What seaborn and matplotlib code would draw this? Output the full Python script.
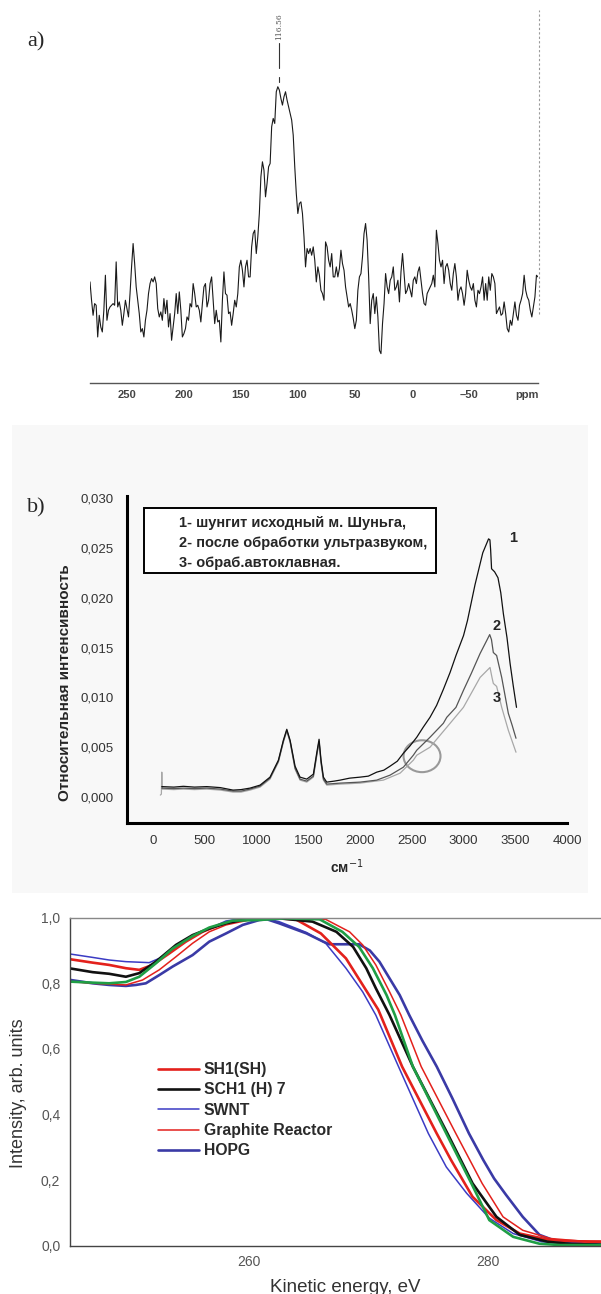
import numpy as np
import pandas as pd
import seaborn as sns
import matplotlib.pyplot as plt
from matplotlib.patches import Rectangle, Ellipse

sns.set_style("white")
plt.rcParams['font.family'] = ['Liberation Sans', 'DejaVu Sans']

# ---- a) 13C NMR spectrum (ppm axis runs right to left) ----
a_ppm_first, a_ppm_last = 282, -110
a_intensity = [303, 248, 203, 238, 233, 138, 203, 168, 153, 218, 323, 188, 218, 228, 233, 238, 233, 363, 228,
               243, 218, 173, 208, 248, 223, 198, 268, 348, 418, 358, 288, 248, 208, 153, 163, 138, 188, 218,
               268, 298, 313, 303, 318, 298, 223, 198, 213, 188, 253, 208, 248, 168, 208, 128, 168, 208, 268,
               208, 273, 218, 138, 148, 163, 198, 188, 238, 228, 298, 268, 228, 233, 218, 183, 238, 288, 298,
               228, 248, 298, 318, 248, 178, 218, 183, 188, 123, 248, 333, 268, 263, 208, 213, 173, 208, 248,
               228, 268, 348, 368, 338, 288, 348, 368, 318, 318, 408, 448, 458, 388, 438, 508, 618, 663, 638,
               558, 598, 648, 658, 768, 793, 778, 873, 888, 878, 853, 833, 858, 873, 848, 828, 808, 788, 743,
               648, 568, 508, 538, 543, 508, 438, 348, 403, 388, 403, 383, 408, 368, 303, 348, 323, 278, 268,
               248, 423, 408, 368, 348, 388, 318, 318, 348, 318, 343, 398, 358, 338, 288, 258, 228, 238, 218,
               193, 163, 188, 278, 318, 328, 378, 448, 478, 428, 318, 178, 248, 268, 208, 258, 198, 98, 88,
               178, 238, 328, 288, 268, 308, 318, 348, 278, 288, 308, 243, 333, 388, 328, 268, 278, 298, 278,
               258, 308, 318, 298, 333, 348, 308, 268, 238, 233, 268, 278, 288, 298, 323, 288, 458, 418, 368,
               348, 368, 298, 348, 358, 338, 298, 278, 328, 358, 318, 248, 278, 288, 268, 233, 268, 338, 308,
               288, 278, 298, 248, 228, 278, 268, 288, 318, 248, 298, 248, 318, 278, 328, 318, 298, 208, 218,
               228, 203, 208, 243, 208, 163, 153, 188, 173, 208, 243, 203, 188, 233, 248, 268, 323, 278, 258,
               248, 218, 198, 228, 258, 323, 318]
a_ticks = [250, 200, 150, 100, 50, 0, -50, -100]
a_ticklabels = ['250', '200', '150', '100', '50', '0', '\u201350', 'ppm']
a_peak = 116.56

# ---- b) Raman spectra ----
b_x1 = [84, 200, 293, 400, 519, 650, 773, 850, 937, 1034, 1130, 1211, 1259, 1292, 1324, 1372, 1420, 1485,
        1549, 1581, 1604, 1623, 1646, 1678, 1750, 1807, 1900, 2000, 2080, 2161, 2230, 2290, 2360, 2419,
        2480, 2548, 2610, 2676, 2740, 2805, 2870, 2927, 3000, 3038, 3111, 3186, 3242, 3255, 3262, 3271,
        3300, 3333, 3360, 3385, 3420, 3450, 3480, 3512]
b_y1 = [0.00105, 0.00100, 0.00108, 0.00100, 0.00105, 0.00095, 0.00070, 0.00075, 0.00090, 0.0012, 0.0020,
        0.0037, 0.0057, 0.0068, 0.0057, 0.0031, 0.0020, 0.0018, 0.0023, 0.0044, 0.0058, 0.0037, 0.0020,
        0.0015, 0.0016, 0.0017, 0.0019, 0.0020, 0.0021, 0.0025, 0.0027, 0.0031, 0.0036, 0.0044, 0.0051,
        0.0060, 0.0070, 0.0080, 0.0092, 0.0108, 0.0125, 0.0142, 0.0162, 0.0177, 0.0213, 0.0245, 0.0259,
        0.0258, 0.0248, 0.0229, 0.0226, 0.0220, 0.0205, 0.0184, 0.0160, 0.0134, 0.0112, 0.0090]
b_x2 = [84, 200, 293, 400, 519, 650, 773, 850, 937, 1034, 1130, 1211, 1259, 1292, 1324, 1372, 1420, 1485,
        1549, 1581, 1604, 1623, 1646, 1678, 1807, 2000, 2161, 2290, 2419, 2515, 2548, 2676, 2805, 2838,
        2927, 2999, 3075, 3160, 3224, 3253, 3270, 3288, 3320, 3369, 3433, 3470, 3507]
b_y2 = [0.0009, 0.00085, 0.0009, 0.00085, 0.0009, 0.0008, 0.0006, 0.0006, 0.0008, 0.0011, 0.0019, 0.0036,
        0.0056, 0.0067, 0.0056, 0.0029, 0.0018, 0.0016, 0.0021, 0.0042, 0.0056, 0.0035, 0.0018, 0.0013,
        0.0014, 0.0015, 0.0017, 0.0022, 0.0030, 0.0042, 0.0047, 0.0060, 0.0074, 0.0080, 0.0090, 0.0107,
        0.0124, 0.0144, 0.0157, 0.0163, 0.0158, 0.0145, 0.0142, 0.0120, 0.0084, 0.0072, 0.0059]
b_x3 = [70, 80, 84, 88, 200, 293, 400, 519, 650, 773, 850, 937, 1034, 1130, 1211, 1259, 1292, 1324, 1372,
        1420, 1485, 1549, 1581, 1604, 1623, 1646, 1678, 1807, 2000, 2225, 2387, 2515, 2548, 2676, 2838,
        2999, 3160, 3256, 3275, 3288, 3320, 3369, 3433, 3470, 3507]
b_y3 = [0.0002, 0.0003, 0.0025, 0.0008, 0.00075, 0.0008, 0.00075, 0.0008, 0.0007, 0.0005, 0.0005, 0.0007,
        0.0010, 0.0018, 0.0035, 0.0055, 0.0066, 0.0055, 0.0028, 0.0017, 0.0015, 0.0020, 0.0041, 0.0055,
        0.0034, 0.0017, 0.0012, 0.0013, 0.0014, 0.0017, 0.0024, 0.0037, 0.0042, 0.0050, 0.0070, 0.0090,
        0.0120, 0.0130, 0.0120, 0.0114, 0.0111, 0.0090, 0.0067, 0.0056, 0.0045]
b_yticks = [0.000, 0.005, 0.010, 0.015, 0.020, 0.025, 0.030]
b_yticklabels = ['0,000', '0,005', '0,010', '0,015', '0,020', '0,025', '0,030']
b_xticks = [0, 500, 1000, 1500, 2000, 2500, 3000, 3500, 4000]
b_legend = ['1- шунгит исходный м. Шуньга,',
            '2- после обработки ультразвуком,',
            '3- обраб.автоклавная.']

# ---- c) normalised spectra ----
c_sh1_x = [245.07, 246.89, 248.28, 249.68, 250.8, 251.91, 253.31, 254.7, 256.1, 257.5, 259.46, 261.5, 263.9,
           266.0, 268.1, 270.8, 272.8, 275.7, 276.9, 278.7, 280.7, 282.65, 285.2, 288.5, 289.5]
c_sh1_y = [0.873, 0.863, 0.856, 0.846, 0.841, 0.856, 0.891, 0.927, 0.957, 0.978, 0.995, 1.0, 0.995,
           0.952, 0.876, 0.72, 0.546, 0.342, 0.261, 0.149, 0.078, 0.037, 0.017, 0.012, 0.012]
c_sch1_x = [245.07, 246.89, 248.28, 249.68, 250.8, 252.19, 253.87, 255.26, 256.66, 258.06, 259.46, 262.0,
            265.3, 267.3, 268.7, 269.8, 270.6, 271.75, 273.7, 276.6, 278.7, 280.7, 282.65, 285.0, 287.0, 289.5]
c_sch1_y = [0.845, 0.834, 0.829, 0.82, 0.831, 0.866, 0.917, 0.947, 0.967, 0.983, 0.993, 1.0, 0.988, 0.957,
            0.911, 0.846, 0.785, 0.703, 0.546, 0.342, 0.19, 0.088, 0.033, 0.012, 0.005, 0.003]
c_swnt_x = [245.07, 246.89, 248.28, 249.68, 251.63, 252.47, 253.87, 255.26, 256.66, 258.06, 259.46, 261.0,
            262.5, 264.8, 266.4, 268.1, 269.5, 270.6, 272.5, 275.0, 276.5, 278.2, 280.1, 282.1, 284.5, 286.5,
            289.5]
c_swnt_y = [0.889, 0.879, 0.871, 0.866, 0.863, 0.876, 0.912, 0.942, 0.967, 0.990, 0.998, 1.0, 0.988, 0.955,
            0.922, 0.846, 0.774, 0.703, 0.546, 0.342, 0.24, 0.16, 0.084, 0.037, 0.012, 0.005, 0.003]
c_graph_x = [245.07, 246.89, 249.68, 251.07, 252.47, 253.87, 255.26, 256.66, 258.06, 260.0, 263.0, 266.4,
             268.4, 269.5, 270.6, 271.75, 272.7, 274.4, 277.3, 279.5, 281.25, 282.9, 285.2, 287.5, 289.5]
c_graph_y = [0.805, 0.80, 0.795, 0.81, 0.841, 0.881, 0.922, 0.957, 0.978, 0.993, 1.0, 0.995, 0.957, 0.917,
             0.856, 0.774, 0.703, 0.546, 0.342, 0.19, 0.088, 0.047, 0.022, 0.015, 0.014]
c_hopg_x = [245.07, 246.89, 248.28, 249.68, 250.52, 251.35, 252.47, 253.59, 255.26, 256.66, 258.06, 259.46,
            260.85, 261.5, 262.5, 264.8, 266.2, 266.7, 269.2, 270.1, 270.9, 271.75, 272.6, 273.4, 274.5,
            275.7, 277.0, 278.4, 279.6, 280.5, 281.5, 282.9, 284.3, 285.4, 287.5, 289.5]
c_hopg_y = [0.81, 0.80, 0.795, 0.792, 0.795, 0.80, 0.825, 0.851, 0.886, 0.927, 0.952, 0.978, 0.993, 0.995,
            0.983, 0.952, 0.927, 0.919, 0.919, 0.90, 0.866, 0.815, 0.764, 0.703, 0.625, 0.546, 0.45, 0.342,
            0.261, 0.205, 0.155, 0.088, 0.033, 0.018, 0.008, 0.003]
c_green_x = [245.07, 246.89, 248.28, 249.68, 250.8, 252.19, 253.59, 255.26, 256.66, 258.6, 260.85, 263.0,
             265.9, 267.8, 269.2, 270.35, 271.5, 272.2, 273.7, 276.5, 278.6, 280.1, 282.1, 284.3, 286.0, 289.5]
c_green_y = [0.805, 0.802, 0.80, 0.804, 0.82, 0.861, 0.906, 0.944, 0.97, 0.991, 0.993, 0.998, 0.995, 0.957,
             0.911, 0.846, 0.764, 0.703, 0.546, 0.342, 0.19, 0.078, 0.027, 0.006, 0.002, 0.002]
c_yticks = [0.0, 0.2, 0.4, 0.6, 0.8, 1.0]
c_yticklabels = ['0,0', '0,2', '0,4', '0,6', '0,8', '1,0']
c_xticks = [260, 280]
c_legend_order = ['SH1(SH)', 'SCH1 (H) 7', 'SWNT', 'Graphite Reactor', 'HOPG']

W, H = 601, 1294
fig = plt.figure(figsize=(W / 100, H / 100), dpi=100)


def box(x0, y0, x1, y1):
    return [x0 / W, 1 - y1 / H, (x1 - x0) / W, (y1 - y0) / H]


# light grey backdrop of the middle picture
fig.patches.append(Rectangle((12 / W, 1 - 893 / H), (588 - 12) / W, (893 - 425) / H,
                             transform=fig.transFigure, facecolor='#f8f8f8', edgecolor='none', zorder=-10))

# ================= a) =================
ax_a = fig.add_axes(box(90, 0, 538, 383))
ax_a.patch.set_alpha(0)
ppm = np.linspace(a_ppm_first, a_ppm_last, len(a_intensity))
sns.lineplot(x=ppm, y=a_intensity, ax=ax_a, color='#1a1a1a', linewidth=0.8, sort=False, estimator=None)
ax_a.set_xlim(a_ppm_first, a_ppm_last)
ax_a.set_ylim(0, 1148)
for s in ['left', 'top', 'right']:
    ax_a.spines[s].set_visible(False)
ax_a.spines['bottom'].set_color('#555555')
ax_a.spines['bottom'].set_linewidth(1.0)
ax_a.set_yticks([])
ax_a.set_xticks(a_ticks, a_ticklabels)
ax_a.set_xticks(np.arange(-100, 281, 10), minor=True)
ax_a.tick_params(axis='x', which='major', direction='inout', length=6, width=0.8, color='#555555',
                 labelsize=8, labelcolor='#444444', pad=2)
ax_a.tick_params(axis='x', which='minor', direction='in', length=3, width=0.7, color='#555555')
for lbl in ax_a.get_xticklabels():
    lbl.set_fontweight('bold')

top = max(a_intensity)
ax_a.plot([a_peak, a_peak], [top + 55, top + 130], color='#333333', lw=0.8)
ax_a.plot([a_peak, a_peak], [top + 15, top + 30], color='#333333', lw=0.8)
ax_a.text(a_peak, top + 140, '116.56', rotation=90, ha='center', va='bottom', fontsize=5.5,
          color='#555555', family='DejaVu Serif')
ax_a.plot([a_ppm_last - 0.5] * 2, [208, 1118], color='#999999', lw=0.8, ls=(0, (2, 2)), clip_on=False)
fig.text(27 / W, 1 - 42 / H, 'a)', family='Liberation Serif', fontsize=16, ha='left', va='center')

# ================= b) =================
ax_b = fig.add_axes(box(126.5, 496, 567, 823))
ax_b.patch.set_alpha(0)
sns.lineplot(x=b_x3, y=b_y3, ax=ax_b, color='#a8a8a8', linewidth=0.9, sort=False, estimator=None)
sns.lineplot(x=b_x2, y=b_y2, ax=ax_b, color='#555555', linewidth=0.9, sort=False, estimator=None)
sns.lineplot(x=b_x1, y=b_y1, ax=ax_b, color='#111111', linewidth=0.9, sort=False, estimator=None)
ax_b.set_xlim(-257, 4000)
ax_b.set_ylim(-0.0026, 0.0302)
for s in ['top', 'right']:
    ax_b.spines[s].set_visible(False)
for s in ['left', 'bottom']:
    ax_b.spines[s].set_linewidth(2.2)
    ax_b.spines[s].set_color('black')
ax_b.set_xticks(b_xticks, [str(v) for v in b_xticks])
ax_b.set_xticks(np.arange(-250, 4001, 250), minor=True)
ax_b.set_yticks(b_yticks, b_yticklabels)
ax_b.set_yticks(np.arange(-0.0025, 0.0301, 0.0025), minor=True)
ax_b.tick_params(which='major', direction='out', length=6, width=1.5, color='black',
                 labelsize=9.5, labelcolor='#333333', pad=3)
ax_b.tick_params(which='minor', direction='out', length=3, width=1.0, color='black')
ax_b.text(3478, 0.0260, '1', fontsize=10.5, fontweight='bold', ha='center', va='center')
ax_b.text(3324, 0.0172, '2', fontsize=10.5, fontweight='bold', ha='center', va='center')
ax_b.text(3324, 0.0099, '3', fontsize=10.5, fontweight='bold', ha='center', va='center')
ax_b.add_patch(Ellipse((2599, 0.0041), 357, 0.0032, fill=False, edgecolor='#999999', lw=1.5))

fig.patches.append(Rectangle((144 / W, 1 - 573 / H), 292 / W, 65 / H, transform=fig.transFigure,
                             facecolor='white', edgecolor='black', lw=1.4))
for i, line in enumerate(b_legend):
    fig.text(179 / W, 1 - (523 + 20 * i) / H, line, fontsize=10.5, fontweight='bold', ha='left', va='center')
fig.text(65 / W, 1 - 683 / H, 'Относительная интенсивность', rotation=90, fontsize=11,
         fontweight='bold', ha='center', va='center')
fig.text(347 / W, 1 - 867 / H, 'см$^{-1}$', fontsize=10, fontweight='bold', ha='center', va='center')
fig.text(27 / W, 1 - 508 / H, 'b)', family='Liberation Serif', fontsize=16, ha='left', va='center')

# ================= c) =================
ax_c = fig.add_axes(box(70, 917.7, 601, 1245.7))
sns.lineplot(x=c_swnt_x, y=c_swnt_y, ax=ax_c, color='#3b3bc4', linewidth=1.1, sort=False,
             estimator=None, label='SWNT')
sns.lineplot(x=c_hopg_x, y=c_hopg_y, ax=ax_c, color='#3a3aa6', linewidth=1.9, sort=False,
             estimator=None, label='HOPG')
sns.lineplot(x=c_graph_x, y=c_graph_y, ax=ax_c, color='#e3211c', linewidth=1.1, sort=False,
             estimator=None, label='Graphite Reactor')
sns.lineplot(x=c_sh1_x, y=c_sh1_y, ax=ax_c, color='#e3211c', linewidth=1.9, sort=False,
             estimator=None, label='SH1(SH)')
sns.lineplot(x=c_sch1_x, y=c_sch1_y, ax=ax_c, color='#111111', linewidth=1.9, sort=False,
             estimator=None, label='SCH1 (H) 7')
sns.lineplot(x=c_green_x, y=c_green_y, ax=ax_c, color='#1f9e45', linewidth=1.9, sort=False,
             estimator=None)
ax_c.set_xlim(245, 289.45)
ax_c.set_ylim(0, 1.0)
ax_c.spines['right'].set_visible(False)
ax_c.spines['top'].set_color('#888888')
for s in ['left', 'bottom']:
    ax_c.spines[s].set_color('#444444')
for s in ['left', 'bottom', 'top']:
    ax_c.spines[s].set_linewidth(1.0)
ax_c.set_xticks(c_xticks, [str(v) for v in c_xticks])
ax_c.set_xticks([250, 270], minor=True)
ax_c.set_yticks(c_yticks, c_yticklabels)
ax_c.set_yticks(np.arange(0.1, 1.0, 0.2), minor=True)
ax_c.tick_params(which='major', direction='in', length=4, width=0.8, color='#444444',
                 labelsize=10, labelcolor='#555555', pad=7)
ax_c.tick_params(which='minor', direction='in', length=3, width=0.8, color='#444444')

handles, labels = ax_c.get_legend_handles_labels()
hmap = dict(zip(labels, handles))
leg = ax_c.legend([hmap[k] for k in c_legend_order], c_legend_order, loc='upper left',
                  bbox_to_anchor=(158 / W, 1 - 1062 / H), bbox_transform=fig.transFigure, frameon=False,
                  handlelength=2.6, handletextpad=0.33, labelspacing=0.34, borderpad=0,
                  borderaxespad=0, labelcolor='#2a2a2a', prop={'weight': 'bold', 'size': 11.3})
fig.text(345 / W, 1 - 1287 / H, 'Kinetic energy, eV', fontsize=13.5, color='#333333', ha='center', va='center')
fig.text(19 / W, 1 - 1093 / H, 'Intensity, arb. units', rotation=90, fontsize=13, color='#333333',
         ha='center', va='center')

fig.savefig('out.png', dpi=100)
